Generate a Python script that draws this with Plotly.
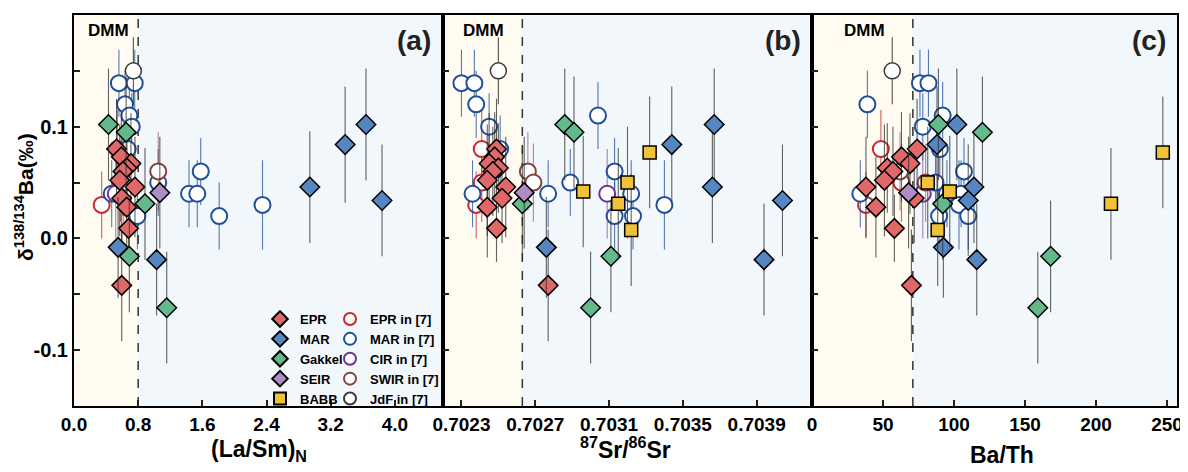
import plotly.graph_objects as go

# ---------------- data ----------------
# EPR (this study, diamonds)
epr_y = [0.080, 0.073, 0.067, 0.063, 0.060, 0.052, 0.046, 0.036, 0.028, 0.009, -0.042]
epr_err = [0.045, 0.040, 0.045, 0.040, 0.040, 0.050, 0.045, 0.040, 0.045, 0.030, 0.050]
epr_lasm = [0.53, 0.59, 0.71, 0.66, 0.61, 0.57, 0.76, 0.595, 0.657, 0.68, 0.595]
epr_sr = [0.70249, 0.70248, 0.70245, 0.70250, 0.70247, 0.70244, 0.70254, 0.70252, 0.70244, 0.70249, 0.70277]
epr_bath = [74, 63, 69, 53, 57, 51, 38, 72, 45, 58, 70]

# MAR (this study)
mar_y = [0.102, 0.084, 0.046, 0.034, -0.008, -0.019]
mar_err = [0.050, 0.052, 0.050, 0.050, 0.045, 0.050]
mar_lasm = [3.64, 3.38, 2.94, 3.84, 0.55, 1.03]
mar_sr = [0.70367, 0.70344, 0.70366, 0.70404, 0.70276, 0.70394]
mar_bath = [102, 88, 114, 110, 92.5, 116]

# Gakkel
gak_y = [0.102, 0.095, 0.031, -0.016, -0.062]
gak_err = [0.050, 0.050, 0.050, 0.050, 0.050]
gak_lasm = [0.43, 0.65, 0.885, 0.69, 1.156]
gak_sr = [0.70286, 0.70291, 0.70263, 0.70311, 0.70300]
gak_bath = [89, 120, 92, 168, 159]

# SEIR
seir_y = [0.041]
seir_err = [0.050]
seir_lasm = [1.07]
seir_sr = [0.70264]
seir_bath = [68]

# BABB (no La/Sm data)
babb_y = [0.077, 0.050, 0.042, 0.031, 0.0075]
babb_err = [0.050, 0.050, 0.050, 0.050, 0.050]
babb_sr = [0.70332, 0.70320, 0.70296, 0.70315, 0.70322]
babb_bath = [247, 81.5, 97, 210.5, 88.5]

# Literature data, ref [7] (hollow circles)
eprl_y = [0.080, 0.050, 0.030]
eprl_err = [0.035, 0.035, 0.030]
eprl_lasm = [0.54, 0.58, 0.345]
eprl_sr = [0.70241, 0.70241, 0.70238]
eprl_bath = [48.5, 63, 38]

marl_y = [0.139, 0.139, 0.120, 0.110, 0.100, 0.080, 0.060, 0.050, 0.040, 0.040, 0.040, 0.030, 0.020, 0.020]
marl_err = [0.030, 0.030, 0.030, 0.030, 0.030, 0.030, 0.030, 0.030, 0.030, 0.030, 0.030, 0.040, 0.030, 0.030]
marl_lasm = [0.56, 0.757, 0.636, 0.69, 0.72, 0.67, 1.58, 1.05, 0.47, 1.434, 1.537, 2.35, 0.79, 1.81]
marl_sr = [0.70230, 0.70237, 0.70238, 0.70304, 0.70245, 0.70251, 0.70313, 0.70289, 0.70236, 0.70277, 0.70322, 0.70340, 0.70313, 0.70323]
marl_bath = [76, 82, 39, 92, 78, 90, 107, 87, 34, 105, 95, 103.5, 89.5, 110]

cir_y = [0.040]
cir_err = [0.040]
cir_lasm = [0.52]
cir_sr = [0.70309]
cir_bath = [78]

swir_y = [0.060, 0.050]
swir_err = [0.035, 0.035]
swir_lasm = [1.05, 0.62]
swir_sr = [0.70266, 0.70269]
swir_bath = [62, 80]

jdf_y = [0.150]
jdf_err = [0.030]
jdf_lasm = [0.74]
jdf_sr = [0.70250]
jdf_bath = [56.5]

# axis / reference values
dmm_lasm = 0.8
dmm_sr = 0.70263
dmm_bath = 71
lasm_ticks = [0.0, 0.8, 1.6, 2.4, 3.2, 4.0]
sr_ticks = [0.7023, 0.7027, 0.7031, 0.7035, 0.7039]
bath_ticks = [0, 50, 100, 150, 200, 250]
y_ticks = [-0.1, 0.0, 0.1, 0.2]
y_ticktext = ["-0.1", "0.0", "0.1", "0.2"]
y_minor = [-0.15, -0.05, 0.05, 0.15]

# ---------------- figure ----------------
FONT = "Liberation Sans, Arial, sans-serif"
fig = go.Figure()

AX = [("x", "y"), ("x2", "y2"), ("x3", "y3")]


def add_group(name, ys, errs, xs_list, symbol, size, fill, edge, edgew, errcolor, legend):
    first = True
    for xs, (xa, ya) in zip(xs_list, AX):
        if xs is None:
            continue
        fig.add_trace(go.Scatter(
            x=xs, y=ys, mode="markers", name=name, legendgroup=name,
            showlegend=first, legend=legend, xaxis=xa, yaxis=ya,
            marker=dict(symbol=symbol, size=size, color=fill,
                        line=dict(color=edge, width=edgew)),
            error_y=dict(type="data", array=errs, visible=True, width=0,
                         thickness=1.1, color=errcolor),
            hoverinfo="x+y+name",
        ))
        first = False


# hollow circles (literature) first so they sit behind
add_group("EPR in [7]", eprl_y, eprl_err, [eprl_lasm, eprl_sr, eprl_bath],
          "circle", 16, "white", "#C8282D", 2, "rgba(200,40,45,0.75)", "legend2")
add_group("MAR in [7]", marl_y, marl_err, [marl_lasm, marl_sr, marl_bath],
          "circle", 16, "white", "#1F4E9C", 2, "rgba(31,78,156,0.75)", "legend2")
add_group("CIR in [7]", cir_y, cir_err, [cir_lasm, cir_sr, cir_bath],
          "circle", 16, "white", "#6E3296", 2, "rgba(110,50,150,0.6)", "legend2")
add_group("SWIR in [7]", swir_y, swir_err, [swir_lasm, swir_sr, swir_bath],
          "circle", 16, "white", "#84433C", 2, "rgba(132,67,60,0.6)", "legend2")
add_group("JdF in [7]", jdf_y, jdf_err, [jdf_lasm, jdf_sr, jdf_bath],
          "circle", 16, "white", "#3A3A3A", 1.5, "rgba(40,40,40,0.8)", "legend2")

# filled symbols (this study)
ERRC = "rgba(45,45,45,0.75)"
add_group("EPR", epr_y, epr_err, [epr_lasm, epr_sr, epr_bath],
          "diamond", 15, "#E06868", "black", 1.5, ERRC, "legend")
add_group("MAR", mar_y, mar_err, [mar_lasm, mar_sr, mar_bath],
          "diamond", 15, "#5686C2", "black", 1.5, ERRC, "legend")
add_group("Gakkel", gak_y, gak_err, [gak_lasm, gak_sr, gak_bath],
          "diamond", 15, "#63B98B", "black", 1.5, ERRC, "legend")
add_group("SEIR", seir_y, seir_err, [seir_lasm, seir_sr, seir_bath],
          "diamond", 15, "#AE8CC4", "black", 1.5, ERRC, "legend")
add_group("BABB", babb_y, babb_err, [None, babb_sr, babb_bath],
          "square", 13, "#F0C239", "black", 1.5, ERRC, "legend")

# ---------------- layout ----------------
# The page body has an 8px margin, so the figure is placed 8px in from the
# window's top-left corner; window pixel p maps to figure pixel p - 8.
OFF = 8
W, H = 1180, 464
px_x = lambda p: (p - OFF) / W
px_y = lambda p: 1 - (p - OFF) / H

xdom = [(px_x(74), px_x(443)), (px_x(443), px_x(812)), (px_x(812), px_x(1177))]
ydom = (px_y(406), px_y(15))

common = dict(showline=True, linecolor="black", linewidth=2, mirror=True,
              ticks="inside", ticklen=6, tickwidth=2, tickcolor="#222",
              showgrid=False, zeroline=False, automargin=False)

xranges = [[0, 4.6], [0.7022, 0.7042], [0, 257]]
xticks = [lasm_ticks, sr_ticks, bath_ticks]
xtext = [[f"{v:.1f}" for v in lasm_ticks], [f"{v:.4f}" for v in sr_ticks],
         [str(v) for v in bath_ticks]]
dmms = [dmm_lasm, dmm_sr, dmm_bath]

layout = dict(width=W, height=H, margin=dict(l=0, r=0, t=0, b=0, pad=0),
              plot_bgcolor="#F1F7FB", paper_bgcolor="white",
              font=dict(family=FONT, color="black"))
for i in range(3):
    sx = "xaxis" if i == 0 else f"xaxis{i+1}"
    sy = "yaxis" if i == 0 else f"yaxis{i+1}"
    ya = "y" if i == 0 else f"y{i+1}"
    xa = "x" if i == 0 else f"x{i+1}"
    layout[sx] = dict(domain=list(xdom[i]), range=xranges[i], anchor=ya,
                      tickmode="array", tickvals=xticks[i], ticktext=xtext[i],
                      tickfont=dict(family=FONT, size=19, color="black", weight="bold"),
                      **common)
    layout[sy] = dict(domain=list(ydom), range=[-0.15, 0.2], anchor=xa,
                      tickmode="array", tickvals=y_ticks, ticktext=y_ticktext,
                      showticklabels=(i == 0),
                      tickfont=dict(family=FONT, size=20, color="black", weight="bold"),
                      minor=dict(tickmode="array", tickvals=y_minor, ticks="inside",
                                 ticklen=6, tickwidth=2, tickcolor="#222", showgrid=False),
                      **common)
fig.update_layout(**layout)

shapes = []
annotations = []
labels = ["(a)", "(b)", "(c)"]
label_x = [433, 803, 1168]
dmm_x = [108, 483, 864]
for i in range(3):
    xa = "x" if i == 0 else f"x{i+1}"
    ya = "y" if i == 0 else f"y{i+1}"
    shapes.append(dict(type="rect", xref=xa, yref=f"{ya} domain", x0=xranges[i][0], x1=dmms[i],
                       y0=0, y1=1, fillcolor="#FFFBF1", line=dict(width=0), layer="below"))
    shapes.append(dict(type="line", xref=xa, yref=f"{ya} domain", x0=dmms[i], x1=dmms[i],
                       y0=0, y1=1, line=dict(color="#333", width=1.5, dash="dash"), layer="below"))
    annotations.append(dict(text=f"<b>{labels[i]}</b>", x=px_x(label_x[i]), y=px_y(40),
                            xref="paper", yref="paper", xanchor="right", yanchor="middle",
                            showarrow=False, font=dict(family=FONT, size=28, color="#222")))
    annotations.append(dict(text="<b>DMM</b>", x=px_x(dmm_x[i]), y=px_y(31),
                            xref="paper", yref="paper", xanchor="center", yanchor="middle",
                            showarrow=False, font=dict(family=FONT, size=17, color="black")))

xtitles = ["(La/Sm)<sub>N</sub>", "<sup>87</sup>Sr/<sup>86</sup>Sr", "Ba/Th"]
xtitle_x = [259, 625, 1002]
xtitle_y = [450, 448, 455]
for t, xc, yc in zip(xtitles, xtitle_x, xtitle_y):
    annotations.append(dict(text=f"<b>{t}</b>", x=px_x(xc), y=px_y(yc), xref="paper", yref="paper",
                            xanchor="center", yanchor="middle", showarrow=False,
                            font=dict(family=FONT, size=23, color="black")))
annotations.append(dict(text="<b>δ<sup>138/134</sup>Ba(‰)</b>", x=px_x(24), y=px_y(197),
                        xref="paper", yref="paper", xanchor="center", yanchor="middle",
                        textangle=-90, showarrow=False,
                        font=dict(family=FONT, size=21, color="black")))

legfont = dict(family=FONT, size=13, color="black", weight="bold")
fig.update_layout(
    shapes=shapes, annotations=annotations, showlegend=True,
    legend=dict(x=px_x(260), y=px_y(304), xref="paper", yref="paper", xanchor="left", yanchor="top",
                bgcolor="rgba(0,0,0,0)", font=legfont, itemsizing="constant",
                tracegroupgap=0, traceorder="normal", borderwidth=0),
    legend2=dict(x=px_x(330), y=px_y(304), xref="paper", yref="paper", xanchor="left", yanchor="top",
                 bgcolor="rgba(0,0,0,0)", font=legfont, itemsizing="constant",
                 tracegroupgap=0, traceorder="normal", borderwidth=0),
)

fig.write_html("out.html")
